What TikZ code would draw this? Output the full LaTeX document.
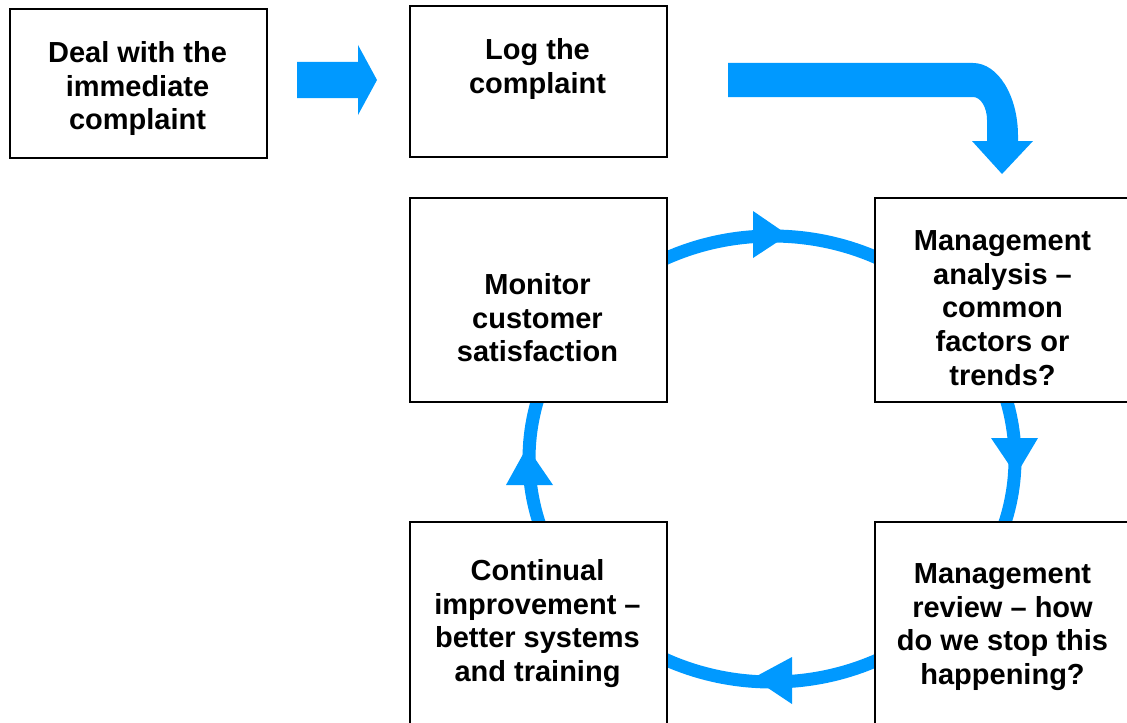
\documentclass[tikz,border=0pt]{standalone}
\usepackage{fontspec}
\setmainfont{Liberation Sans}
\definecolor{arrowblue}{RGB}{0,153,255}
\newcommand\firststrut{\rule{0pt}{12pt}}
\begin{document}
\begin{tikzpicture}[x=0.5pt,y=-0.5pt,
  box/.style={draw=black,line width=1pt,fill=white,rectangle,inner sep=0pt,anchor=north west,minimum width=128.5pt},
  txt/.style={anchor=north,inner sep=0pt,align=center,font=\bfseries\fontsize{14.5}{16.85}\selectfont},
  blockarrow/.style={fill=arrowblue,draw=none},
  ring/.style={draw=arrowblue,line width=6.5pt}]
\useasboundingbox (0,0) rectangle (1127,722);
\clip (0,0) rectangle (1127,722);

% cycle ring
\coordinate (ringc) at (772,459);
\draw[ring] (ringc) ellipse [x radius=243, y radius=223];

% boxes
\node[box,minimum height=74.5pt] (b1) at (9,8) {};
\node[box,minimum height=75.25pt] (b2) at (409,5) {};
\node[box,minimum height=102pt] (b3) at (409,197) {};
\node[box,minimum height=102pt] (b4) at (874,197) {};
\node[box,minimum height=102pt] (b5) at (409,521) {};
\node[box,minimum height=102pt] (b6) at (874,521) {};

% texts
\node[txt] (t1) at (137.5,38) {\firststrut Deal with the\\immediate\\complaint};
\node[txt] (t2) at (537.5,35) {\firststrut Log the\\complaint};
\node[txt] (t3) at (537.5,270) {\firststrut Monitor\\customer\\satisfaction};
\node[txt] (t4) at (1002.5,226) {\firststrut Management\\analysis –\\common\\factors or\\trends?};
\node[txt] (t5) at (537.5,556) {\firststrut Continual\\improvement –\\better systems\\and training};
\node[txt] (t6) at (1002.5,559) {\firststrut Management\\review – how\\do we stop this\\happening?};

% block arrow 1
\fill[blockarrow] (297,62) -- (358,62) -- (358,45) -- (377,80) -- (358,115) -- (358,98) -- (297,98) -- cycle;

% bent block arrow 2
\fill[blockarrow] (728,63) -- (973,63)
  .. controls (997.9,63) and (1018,95.7) .. (1018,136)
  -- (1018,141) -- (1033,141) -- (1002,174) -- (972,141) -- (987,141) -- (987,120)
  .. controls (987,107.3) and (980.7,97) .. (973,97)
  -- (728,97) -- cycle;

% ring arrowheads
\fill[blockarrow] (753,211) -- (788,235) -- (753,258) -- cycle;
\fill[blockarrow] (991,438) -- (1038,438) -- (1016,475) -- cycle;
\fill[blockarrow] (506,485) -- (553,485) -- (527,447) -- cycle;
\fill[blockarrow] (792,657) -- (792,704) -- (753,678) -- cycle;
\end{tikzpicture}
\end{document}
